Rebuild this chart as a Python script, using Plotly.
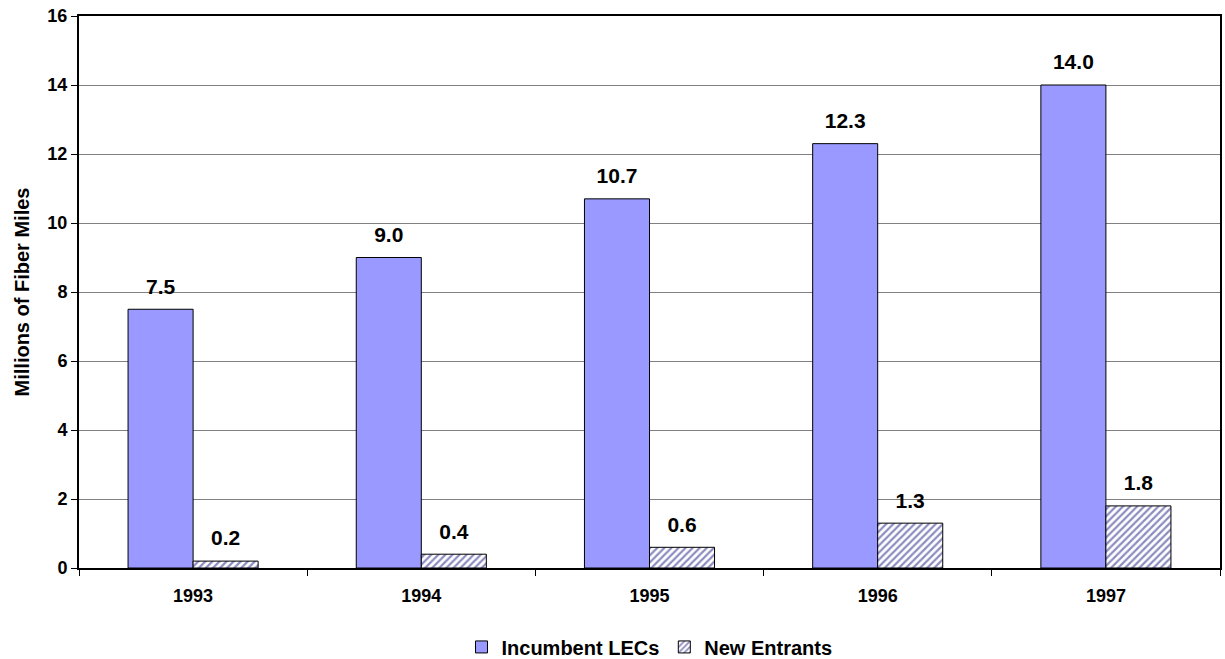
import plotly.graph_objects as go

years = ["1993", "1994", "1995", "1996", "1997"]
incumbent = [7.5, 9.0, 10.7, 12.3, 14.0]
new_entrants = [0.2, 0.4, 0.6, 1.3, 1.8]
y_ticks = [0, 2, 4, 6, 8, 10, 12, 14, 16]

FONT = "Liberation Sans, Arial, sans-serif"
LABEL_FONT = dict(family=FONT, size=21, color="black", weight="bold")

fig = go.Figure()
fig.add_trace(go.Bar(
    x=years, y=incumbent, name="Incumbent LECs", offsetgroup="inc",
    marker=dict(color="#9999FF", line=dict(color="black", width=1)),
))
fig.add_trace(go.Bar(
    x=years, y=new_entrants, name="New Entrants", offsetgroup="new",
    marker=dict(color="white", line=dict(color="black", width=1),
                pattern=dict(shape="/", fgcolor="#1a1a80", bgcolor="white",
                             size=5, solidity=0.45)),
))
# value labels, aligned with the grouped bars
for vals, grp in ((incumbent, "inc"), (new_entrants, "new")):
    fig.add_trace(go.Scatter(
        x=years, y=vals, offsetgroup=grp, mode="markers+text",
        marker=dict(size=15, opacity=0), text=[f"{v:.1f}" for v in vals],
        textposition="top center", textfont=LABEL_FONT,
        showlegend=False, hoverinfo="skip", cliponaxis=False,
    ))

fig.update_layout(
    width=1225, height=659,
    margin=dict(l=79, r=5, t=16, b=91, autoexpand=False),
    paper_bgcolor="white", plot_bgcolor="white",
    barmode="group", bargap=0.43, bargroupgap=0,
    scattermode="group", scattergap=0.43,
    font=dict(family=FONT, color="black"),
    showlegend=True,
    legend=dict(orientation="h", x=0.5, xanchor="center", y=-0.143, yanchor="middle",
                font=dict(family=FONT, size=20, color="black", weight="bold"),
                itemwidth=30, tracegroupgap=0),
)
fig.update_xaxes(
    type="category", showline=True, linecolor="black", linewidth=2, mirror=True,
    ticks="outside", tickson="boundaries", ticklen=6, tickcolor="black",
    tickfont=dict(family=FONT, size=18, color="black", weight="bold"),
    ticklabelstandoff=10,
    showgrid=False, automargin=False,
)
fig.update_yaxes(
    range=[0, 16], tickvals=y_ticks, showline=True, linecolor="black", linewidth=2,
    mirror=True, ticks="outside", ticklen=6, tickcolor="black",
    tickfont=dict(family=FONT, size=18, color="black", weight="bold"),
    ticklabeloverflow="allow",
    showgrid=True, gridcolor="#808080", gridwidth=1,
    title=dict(text="Millions of Fiber Miles",
               font=dict(family=FONT, size=20, color="black", weight="bold"), standoff=12),
    zeroline=False, automargin=False,
)

# remove the browser's default 8px body margin so the figure fills the window
fig.write_html("out.html", config={"displayModeBar": False},
               post_script="document.body.style.margin='0';")
